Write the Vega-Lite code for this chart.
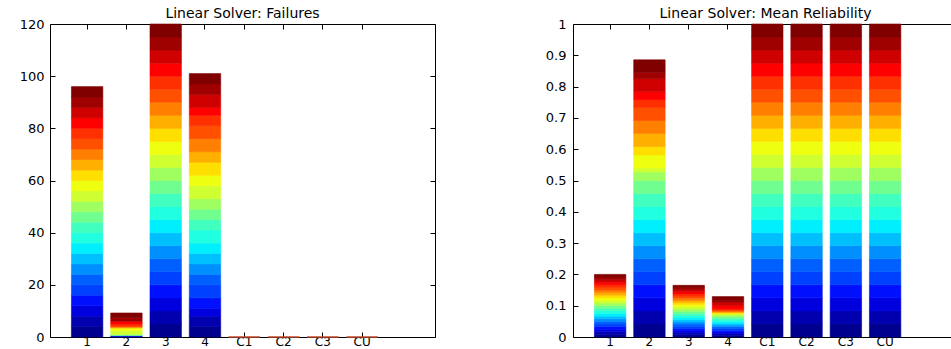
{
  "$schema": "https://vega.github.io/schema/vega-lite/v6.json",
  "background": "white",
  "padding": {"left": 19, "top": 7, "right": 0, "bottom": 0},
  "bounds": "flush",
  "spacing": 138,
  "config": {
    "font": "DejaVu Sans",
    "view": {"stroke": null},
    "axis": {
      "grid": false,
      "title": null,
      "domainColor": "black",
      "domainWidth": 1,
      "tickColor": "black",
      "tickWidth": 1,
      "tickSize": -5,
      "labelColor": "black",
      "labelFont": "DejaVu Sans",
      "labelFontSize": 13
    },
    "bar": {"strokeWidth": 0.6},
    "title": {"font": "DejaVu Sans", "fontSize": 14, "fontWeight": "normal", "color": "black", "offset": -3}
  },
  "datasets": {
    "failures": [
      {"solver": "1", "problem": 1, "value": 4}, {"solver": "1", "problem": 2, "value": 4}, {"solver": "1", "problem": 3, "value": 4}, {"solver": "1", "problem": 4, "value": 4},
      {"solver": "1", "problem": 5, "value": 4}, {"solver": "1", "problem": 6, "value": 4}, {"solver": "1", "problem": 7, "value": 4}, {"solver": "1", "problem": 8, "value": 4},
      {"solver": "1", "problem": 9, "value": 4}, {"solver": "1", "problem": 10, "value": 4}, {"solver": "1", "problem": 11, "value": 4}, {"solver": "1", "problem": 12, "value": 4},
      {"solver": "1", "problem": 13, "value": 4}, {"solver": "1", "problem": 14, "value": 4}, {"solver": "1", "problem": 15, "value": 4}, {"solver": "1", "problem": 16, "value": 4},
      {"solver": "1", "problem": 17, "value": 4}, {"solver": "1", "problem": 18, "value": 4}, {"solver": "1", "problem": 19, "value": 4}, {"solver": "1", "problem": 20, "value": 4},
      {"solver": "1", "problem": 21, "value": 4}, {"solver": "1", "problem": 22, "value": 4}, {"solver": "1", "problem": 23, "value": 4}, {"solver": "1", "problem": 24, "value": 4},
      {"solver": "2", "problem": 3, "value": 0.5}, {"solver": "2", "problem": 12, "value": 0.5}, {"solver": "2", "problem": 14, "value": 1.5}, {"solver": "2", "problem": 15, "value": 1},
      {"solver": "2", "problem": 18, "value": 0.5}, {"solver": "2", "problem": 20, "value": 1}, {"solver": "2", "problem": 21, "value": 1}, {"solver": "2", "problem": 23, "value": 1.5},
      {"solver": "2", "problem": 24, "value": 1.7},
      {"solver": "3", "problem": 1, "value": 5}, {"solver": "3", "problem": 2, "value": 5}, {"solver": "3", "problem": 3, "value": 5}, {"solver": "3", "problem": 4, "value": 5},
      {"solver": "3", "problem": 5, "value": 5}, {"solver": "3", "problem": 6, "value": 5}, {"solver": "3", "problem": 7, "value": 5}, {"solver": "3", "problem": 8, "value": 5},
      {"solver": "3", "problem": 9, "value": 5}, {"solver": "3", "problem": 10, "value": 5}, {"solver": "3", "problem": 11, "value": 5}, {"solver": "3", "problem": 12, "value": 5},
      {"solver": "3", "problem": 13, "value": 5}, {"solver": "3", "problem": 14, "value": 5}, {"solver": "3", "problem": 15, "value": 5}, {"solver": "3", "problem": 16, "value": 5},
      {"solver": "3", "problem": 17, "value": 5}, {"solver": "3", "problem": 18, "value": 5}, {"solver": "3", "problem": 19, "value": 5}, {"solver": "3", "problem": 20, "value": 5},
      {"solver": "3", "problem": 21, "value": 5}, {"solver": "3", "problem": 22, "value": 5}, {"solver": "3", "problem": 23, "value": 5}, {"solver": "3", "problem": 24, "value": 5},
      {"solver": "4", "problem": 1, "value": 4}, {"solver": "4", "problem": 2, "value": 4}, {"solver": "4", "problem": 3, "value": 3}, {"solver": "4", "problem": 4, "value": 4},
      {"solver": "4", "problem": 5, "value": 5}, {"solver": "4", "problem": 6, "value": 4}, {"solver": "4", "problem": 7, "value": 4}, {"solver": "4", "problem": 8, "value": 4},
      {"solver": "4", "problem": 9, "value": 4}, {"solver": "4", "problem": 10, "value": 5}, {"solver": "4", "problem": 11, "value": 4}, {"solver": "4", "problem": 12, "value": 4},
      {"solver": "4", "problem": 13, "value": 4}, {"solver": "4", "problem": 14, "value": 5}, {"solver": "4", "problem": 15, "value": 4}, {"solver": "4", "problem": 16, "value": 5},
      {"solver": "4", "problem": 17, "value": 4}, {"solver": "4", "problem": 18, "value": 5}, {"solver": "4", "problem": 19, "value": 5}, {"solver": "4", "problem": 20, "value": 4},
      {"solver": "4", "problem": 21, "value": 3}, {"solver": "4", "problem": 22, "value": 5}, {"solver": "4", "problem": 23, "value": 4}, {"solver": "4", "problem": 24, "value": 4}
    ],
    "noFailures": [
      {"solver": "C1", "value": 0}, {"solver": "C2", "value": 0}, {"solver": "C3", "value": 0}, {"solver": "CU", "value": 0}
    ],
    "reliability": [
      {"solver": "1", "problem": 1, "value": 0.008333}, {"solver": "1", "problem": 2, "value": 0.008333}, {"solver": "1", "problem": 3, "value": 0.008333}, {"solver": "1", "problem": 4, "value": 0.008333},
      {"solver": "1", "problem": 5, "value": 0.008333}, {"solver": "1", "problem": 6, "value": 0.008333}, {"solver": "1", "problem": 7, "value": 0.008333}, {"solver": "1", "problem": 8, "value": 0.008333},
      {"solver": "1", "problem": 9, "value": 0.008333}, {"solver": "1", "problem": 10, "value": 0.008333}, {"solver": "1", "problem": 11, "value": 0.008333}, {"solver": "1", "problem": 12, "value": 0.008333},
      {"solver": "1", "problem": 13, "value": 0.008333}, {"solver": "1", "problem": 14, "value": 0.008333}, {"solver": "1", "problem": 15, "value": 0.008333}, {"solver": "1", "problem": 16, "value": 0.008333},
      {"solver": "1", "problem": 17, "value": 0.008333}, {"solver": "1", "problem": 18, "value": 0.008333}, {"solver": "1", "problem": 19, "value": 0.008333}, {"solver": "1", "problem": 20, "value": 0.008333},
      {"solver": "1", "problem": 21, "value": 0.008333}, {"solver": "1", "problem": 22, "value": 0.008333}, {"solver": "1", "problem": 23, "value": 0.008333}, {"solver": "1", "problem": 24, "value": 0.008333},
      {"solver": "2", "problem": 1, "value": 0.041667}, {"solver": "2", "problem": 2, "value": 0.041667}, {"solver": "2", "problem": 3, "value": 0.041667}, {"solver": "2", "problem": 4, "value": 0.041667},
      {"solver": "2", "problem": 5, "value": 0.041667}, {"solver": "2", "problem": 6, "value": 0.041667}, {"solver": "2", "problem": 7, "value": 0.041667}, {"solver": "2", "problem": 8, "value": 0.041667},
      {"solver": "2", "problem": 9, "value": 0.041667}, {"solver": "2", "problem": 10, "value": 0.041667}, {"solver": "2", "problem": 11, "value": 0.041667}, {"solver": "2", "problem": 12, "value": 0.041667},
      {"solver": "2", "problem": 13, "value": 0.027083}, {"solver": "2", "problem": 14, "value": 0.0125}, {"solver": "2", "problem": 15, "value": 0.041667}, {"solver": "2", "problem": 16, "value": 0.027083},
      {"solver": "2", "problem": 17, "value": 0.041667}, {"solver": "2", "problem": 18, "value": 0.041667}, {"solver": "2", "problem": 19, "value": 0.041667}, {"solver": "2", "problem": 20, "value": 0.025},
      {"solver": "2", "problem": 21, "value": 0.025}, {"solver": "2", "problem": 22, "value": 0.041667}, {"solver": "2", "problem": 23, "value": 0.020833}, {"solver": "2", "problem": 24, "value": 0.039583},
      {"solver": "3", "problem": 1, "value": 0.006875}, {"solver": "3", "problem": 2, "value": 0.006875}, {"solver": "3", "problem": 3, "value": 0.006875}, {"solver": "3", "problem": 4, "value": 0.006875},
      {"solver": "3", "problem": 5, "value": 0.006875}, {"solver": "3", "problem": 6, "value": 0.006875}, {"solver": "3", "problem": 7, "value": 0.006875}, {"solver": "3", "problem": 8, "value": 0.006875},
      {"solver": "3", "problem": 9, "value": 0.006875}, {"solver": "3", "problem": 10, "value": 0.006875}, {"solver": "3", "problem": 11, "value": 0.006875}, {"solver": "3", "problem": 12, "value": 0.006875},
      {"solver": "3", "problem": 13, "value": 0.006875}, {"solver": "3", "problem": 14, "value": 0.006875}, {"solver": "3", "problem": 15, "value": 0.006875}, {"solver": "3", "problem": 16, "value": 0.006875},
      {"solver": "3", "problem": 17, "value": 0.006875}, {"solver": "3", "problem": 18, "value": 0.006875}, {"solver": "3", "problem": 19, "value": 0.006875}, {"solver": "3", "problem": 20, "value": 0.006875},
      {"solver": "3", "problem": 21, "value": 0.006875}, {"solver": "3", "problem": 22, "value": 0.006875}, {"solver": "3", "problem": 23, "value": 0.006875}, {"solver": "3", "problem": 24, "value": 0.006875},
      {"solver": "4", "problem": 1, "value": 0.005417}, {"solver": "4", "problem": 2, "value": 0.005417}, {"solver": "4", "problem": 3, "value": 0.005417}, {"solver": "4", "problem": 4, "value": 0.005417},
      {"solver": "4", "problem": 5, "value": 0.005417}, {"solver": "4", "problem": 6, "value": 0.005417}, {"solver": "4", "problem": 7, "value": 0.005417}, {"solver": "4", "problem": 8, "value": 0.005417},
      {"solver": "4", "problem": 9, "value": 0.005417}, {"solver": "4", "problem": 10, "value": 0.005417}, {"solver": "4", "problem": 11, "value": 0.005417}, {"solver": "4", "problem": 12, "value": 0.005417},
      {"solver": "4", "problem": 13, "value": 0.005417}, {"solver": "4", "problem": 14, "value": 0.0025}, {"solver": "4", "problem": 15, "value": 0.0025}, {"solver": "4", "problem": 16, "value": 0.0025},
      {"solver": "4", "problem": 17, "value": 0.0025}, {"solver": "4", "problem": 18, "value": 0.0025}, {"solver": "4", "problem": 19, "value": 0.0025}, {"solver": "4", "problem": 20, "value": 0.004167},
      {"solver": "4", "problem": 21, "value": 0.010417}, {"solver": "4", "problem": 22, "value": 0.010417}, {"solver": "4", "problem": 23, "value": 0.00625}, {"solver": "4", "problem": 24, "value": 0.0125},
      {"solver": "C1", "problem": 1, "value": 0.041667}, {"solver": "C1", "problem": 2, "value": 0.041667}, {"solver": "C1", "problem": 3, "value": 0.041667}, {"solver": "C1", "problem": 4, "value": 0.041667},
      {"solver": "C1", "problem": 5, "value": 0.041667}, {"solver": "C1", "problem": 6, "value": 0.041667}, {"solver": "C1", "problem": 7, "value": 0.041667}, {"solver": "C1", "problem": 8, "value": 0.041667},
      {"solver": "C1", "problem": 9, "value": 0.041667}, {"solver": "C1", "problem": 10, "value": 0.041667}, {"solver": "C1", "problem": 11, "value": 0.041667}, {"solver": "C1", "problem": 12, "value": 0.041667},
      {"solver": "C1", "problem": 13, "value": 0.041667}, {"solver": "C1", "problem": 14, "value": 0.041667}, {"solver": "C1", "problem": 15, "value": 0.041667}, {"solver": "C1", "problem": 16, "value": 0.041667},
      {"solver": "C1", "problem": 17, "value": 0.041667}, {"solver": "C1", "problem": 18, "value": 0.041667}, {"solver": "C1", "problem": 19, "value": 0.041667}, {"solver": "C1", "problem": 20, "value": 0.041667},
      {"solver": "C1", "problem": 21, "value": 0.041667}, {"solver": "C1", "problem": 22, "value": 0.041667}, {"solver": "C1", "problem": 23, "value": 0.041667}, {"solver": "C1", "problem": 24, "value": 0.041667},
      {"solver": "C2", "problem": 1, "value": 0.041667}, {"solver": "C2", "problem": 2, "value": 0.041667}, {"solver": "C2", "problem": 3, "value": 0.041667}, {"solver": "C2", "problem": 4, "value": 0.041667},
      {"solver": "C2", "problem": 5, "value": 0.041667}, {"solver": "C2", "problem": 6, "value": 0.041667}, {"solver": "C2", "problem": 7, "value": 0.041667}, {"solver": "C2", "problem": 8, "value": 0.041667},
      {"solver": "C2", "problem": 9, "value": 0.041667}, {"solver": "C2", "problem": 10, "value": 0.041667}, {"solver": "C2", "problem": 11, "value": 0.041667}, {"solver": "C2", "problem": 12, "value": 0.041667},
      {"solver": "C2", "problem": 13, "value": 0.041667}, {"solver": "C2", "problem": 14, "value": 0.041667}, {"solver": "C2", "problem": 15, "value": 0.041667}, {"solver": "C2", "problem": 16, "value": 0.041667},
      {"solver": "C2", "problem": 17, "value": 0.041667}, {"solver": "C2", "problem": 18, "value": 0.041667}, {"solver": "C2", "problem": 19, "value": 0.041667}, {"solver": "C2", "problem": 20, "value": 0.041667},
      {"solver": "C2", "problem": 21, "value": 0.041667}, {"solver": "C2", "problem": 22, "value": 0.041667}, {"solver": "C2", "problem": 23, "value": 0.041667}, {"solver": "C2", "problem": 24, "value": 0.041667},
      {"solver": "C3", "problem": 1, "value": 0.041667}, {"solver": "C3", "problem": 2, "value": 0.041667}, {"solver": "C3", "problem": 3, "value": 0.041667}, {"solver": "C3", "problem": 4, "value": 0.041667},
      {"solver": "C3", "problem": 5, "value": 0.041667}, {"solver": "C3", "problem": 6, "value": 0.041667}, {"solver": "C3", "problem": 7, "value": 0.041667}, {"solver": "C3", "problem": 8, "value": 0.041667},
      {"solver": "C3", "problem": 9, "value": 0.041667}, {"solver": "C3", "problem": 10, "value": 0.041667}, {"solver": "C3", "problem": 11, "value": 0.041667}, {"solver": "C3", "problem": 12, "value": 0.041667},
      {"solver": "C3", "problem": 13, "value": 0.041667}, {"solver": "C3", "problem": 14, "value": 0.041667}, {"solver": "C3", "problem": 15, "value": 0.041667}, {"solver": "C3", "problem": 16, "value": 0.041667},
      {"solver": "C3", "problem": 17, "value": 0.041667}, {"solver": "C3", "problem": 18, "value": 0.041667}, {"solver": "C3", "problem": 19, "value": 0.041667}, {"solver": "C3", "problem": 20, "value": 0.041667},
      {"solver": "C3", "problem": 21, "value": 0.041667}, {"solver": "C3", "problem": 22, "value": 0.041667}, {"solver": "C3", "problem": 23, "value": 0.041667}, {"solver": "C3", "problem": 24, "value": 0.041667},
      {"solver": "CU", "problem": 1, "value": 0.041667}, {"solver": "CU", "problem": 2, "value": 0.041667}, {"solver": "CU", "problem": 3, "value": 0.041667}, {"solver": "CU", "problem": 4, "value": 0.041667},
      {"solver": "CU", "problem": 5, "value": 0.041667}, {"solver": "CU", "problem": 6, "value": 0.041667}, {"solver": "CU", "problem": 7, "value": 0.041667}, {"solver": "CU", "problem": 8, "value": 0.041667},
      {"solver": "CU", "problem": 9, "value": 0.041667}, {"solver": "CU", "problem": 10, "value": 0.041667}, {"solver": "CU", "problem": 11, "value": 0.041667}, {"solver": "CU", "problem": 12, "value": 0.041667},
      {"solver": "CU", "problem": 13, "value": 0.041667}, {"solver": "CU", "problem": 14, "value": 0.041667}, {"solver": "CU", "problem": 15, "value": 0.041667}, {"solver": "CU", "problem": 16, "value": 0.041667},
      {"solver": "CU", "problem": 17, "value": 0.041667}, {"solver": "CU", "problem": 18, "value": 0.041667}, {"solver": "CU", "problem": 19, "value": 0.041667}, {"solver": "CU", "problem": 20, "value": 0.041667},
      {"solver": "CU", "problem": 21, "value": 0.041667}, {"solver": "CU", "problem": 22, "value": 0.041667}, {"solver": "CU", "problem": 23, "value": 0.041667}, {"solver": "CU", "problem": 24, "value": 0.041667}
    ]
  },
  "hconcat": [
    {
      "title": "Linear Solver: Failures",
      "width": 385,
      "height": 313,
      "resolve": {"axis": {"x": "independent", "y": "independent"}},
      "layer": [
        {
          "data": {"name": "failures"},
          "mark": {"type": "bar"},
          "encoding": {
            "x": {
              "field": "solver", "type": "nominal",
              "scale": {"domain": ["1", "2", "3", "4", "C1", "C2", "C3", "CU"], "paddingInner": 0.2, "paddingOuter": 1.1, "align": 0.2727},
              "axis": {"orient": "bottom", "labelAngle": 0, "labelPadding": 4, "labelFontSize": 12}
            },
            "y": {
              "field": "value", "type": "quantitative",
              "scale": {"domain": [0, 120], "nice": false},
              "axis": {"orient": "left", "values": [0, 20, 40, 60, 80, 100, 120], "labelPadding": 11}
            },
            "color": {
              "field": "problem", "type": "ordinal", "legend": null,
              "scale": {
                "domain": [1, 2, 3, 4, 5, 6, 7, 8, 9, 10, 11, 12, 13, 14, 15, 16, 17, 18, 19, 20, 21, 22, 23, 24],
                "range": ["#00008F", "#0000AF", "#0000DF", "#0010FF", "#0040FF", "#0060FF", "#008FFF", "#00BFFF", "#00EFFF", "#20FFDF", "#40FFBF", "#70FF8F", "#9FFF60", "#CFFF30", "#EFFF10", "#FFDF00", "#FFAF00", "#FF8000", "#FF5000", "#FF3000", "#FF0000", "#CF0000", "#9F0000", "#800000"]
              }
            },
            "stroke": {
              "field": "problem", "type": "ordinal", "legend": null,
              "scale": {
                "domain": [1, 2, 3, 4, 5, 6, 7, 8, 9, 10, 11, 12, 13, 14, 15, 16, 17, 18, 19, 20, 21, 22, 23, 24],
                "range": ["#00008F", "#0000AF", "#0000DF", "#0010FF", "#0040FF", "#0060FF", "#008FFF", "#00BFFF", "#00EFFF", "#20FFDF", "#40FFBF", "#70FF8F", "#9FFF60", "#CFFF30", "#EFFF10", "#FFDF00", "#FFAF00", "#FF8000", "#FF5000", "#FF3000", "#FF0000", "#CF0000", "#9F0000", "#800000"]
              }
            },
            "order": {"field": "problem", "type": "quantitative", "sort": "ascending"}
          }
        },
        {
          "data": {"name": "noFailures"},
          "mark": {"type": "bar", "fill": null, "stroke": "#c0482c", "strokeWidth": 1},
          "encoding": {
            "x": {"field": "solver", "type": "nominal", "axis": {"orient": "top", "labels": false}},
            "y": {"field": "value", "type": "quantitative", "axis": {"orient": "right", "labels": false, "values": [0, 20, 40, 60, 80, 100, 120]}}
          }
        }
      ]
    },
    {
      "title": "Linear Solver: Mean Reliability",
      "width": 385,
      "height": 313,
      "resolve": {"axis": {"x": "independent", "y": "independent"}},
      "layer": [
        {
          "data": {"name": "reliability"},
          "mark": {"type": "bar"},
          "encoding": {
            "x": {
              "field": "solver", "type": "nominal",
              "scale": {"domain": ["1", "2", "3", "4", "C1", "C2", "C3", "CU"], "paddingInner": 0.2, "paddingOuter": 1.1, "align": 0.2727},
              "axis": {"orient": "bottom", "labelAngle": 0, "labelPadding": 4, "labelFontSize": 12}
            },
            "y": {
              "field": "value", "type": "quantitative",
              "scale": {"domain": [0, 1], "nice": false},
              "axis": {"orient": "left", "values": [0, 0.1, 0.2, 0.3, 0.4, 0.5, 0.6, 0.7, 0.8, 0.9, 1], "format": "~g", "labelPadding": 12}
            },
            "color": {
              "field": "problem", "type": "ordinal", "legend": null,
              "scale": {
                "domain": [1, 2, 3, 4, 5, 6, 7, 8, 9, 10, 11, 12, 13, 14, 15, 16, 17, 18, 19, 20, 21, 22, 23, 24],
                "range": ["#00008F", "#0000AF", "#0000DF", "#0010FF", "#0040FF", "#0060FF", "#008FFF", "#00BFFF", "#00EFFF", "#20FFDF", "#40FFBF", "#70FF8F", "#9FFF60", "#CFFF30", "#EFFF10", "#FFDF00", "#FFAF00", "#FF8000", "#FF5000", "#FF3000", "#FF0000", "#CF0000", "#9F0000", "#800000"]
              }
            },
            "stroke": {
              "field": "problem", "type": "ordinal", "legend": null,
              "scale": {
                "domain": [1, 2, 3, 4, 5, 6, 7, 8, 9, 10, 11, 12, 13, 14, 15, 16, 17, 18, 19, 20, 21, 22, 23, 24],
                "range": ["#00008F", "#0000AF", "#0000DF", "#0010FF", "#0040FF", "#0060FF", "#008FFF", "#00BFFF", "#00EFFF", "#20FFDF", "#40FFBF", "#70FF8F", "#9FFF60", "#CFFF30", "#EFFF10", "#FFDF00", "#FFAF00", "#FF8000", "#FF5000", "#FF3000", "#FF0000", "#CF0000", "#9F0000", "#800000"]
              }
            },
            "order": {"field": "problem", "type": "quantitative", "sort": "ascending"}
          }
        },
        {
          "data": {"name": "reliability"},
          "mark": {"type": "bar", "opacity": 0},
          "encoding": {
            "x": {"field": "solver", "type": "nominal", "axis": {"orient": "top", "labels": false}},
            "y": {"field": "value", "type": "quantitative", "axis": {"orient": "right", "labels": false, "values": [0, 0.1, 0.2, 0.3, 0.4, 0.5, 0.6, 0.7, 0.8, 0.9, 1]}},
            "order": {"field": "problem", "type": "quantitative", "sort": "ascending"}
          }
        }
      ]
    }
  ]
}
